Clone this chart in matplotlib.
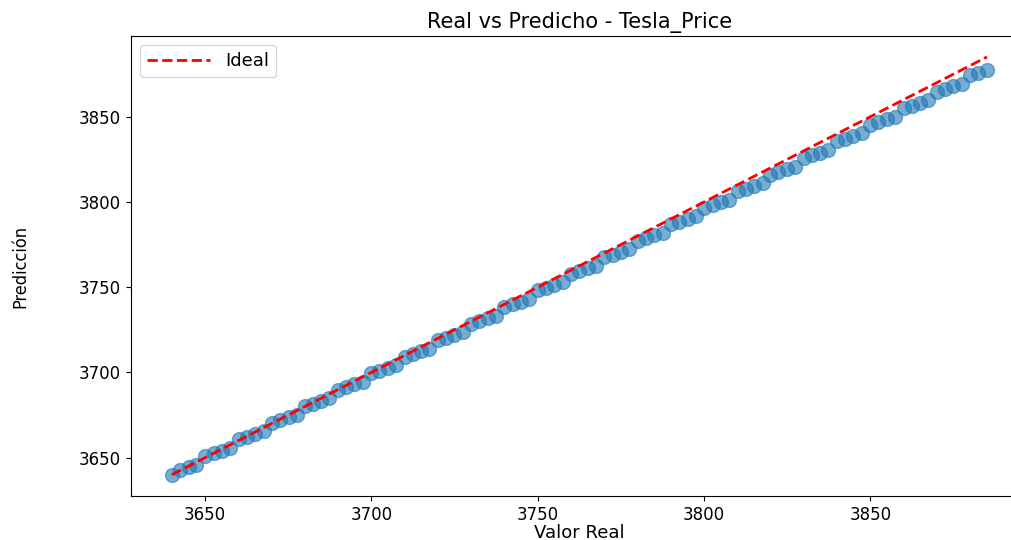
import matplotlib
matplotlib.use("Agg")
import matplotlib.pyplot as plt

# valores reales y predichos
real = [3640.0, 3642.6, 3645.1, 3647.4, 3650.0, 3652.6, 3655.0, 3657.4, 3660.1, 3662.5,
        3664.9, 3667.6, 3670.0, 3672.4, 3675.1, 3677.5, 3680.0, 3682.6, 3685.0, 3687.4,
        3690.1, 3692.5, 3694.9, 3697.6, 3700.0, 3702.4, 3705.1, 3707.5, 3710.0, 3712.6,
        3715.0, 3717.4, 3720.1, 3722.5, 3724.9, 3727.6, 3730.0, 3732.4, 3735.1, 3737.5,
        3740.0, 3742.6, 3745.0, 3747.4, 3750.1, 3752.5, 3754.9, 3757.6, 3760.0, 3762.4,
        3765.1, 3767.5, 3770.0, 3772.6, 3775.0, 3777.4, 3780.1, 3782.5, 3784.9, 3787.6,
        3790.0, 3792.4, 3795.1, 3797.5, 3800.0, 3802.6, 3805.0, 3807.4, 3810.1, 3812.5,
        3814.9, 3817.6, 3820.0, 3822.4, 3825.1, 3827.5, 3830.0, 3832.6, 3835.0, 3837.4,
        3840.1, 3842.5, 3844.9, 3847.6, 3850.0, 3852.4, 3855.1, 3857.5, 3860.0, 3862.6,
        3865.0, 3867.4, 3870.1, 3872.5, 3874.9, 3877.6, 3880.0, 3882.4, 3885.1]

pred = [3639.8, 3642.8, 3644.5, 3646.0, 3651.0, 3652.5, 3654.2, 3655.7, 3660.7, 3662.3,
        3663.9, 3665.4, 3670.4, 3672.0, 3673.6, 3675.1, 3680.1, 3681.7, 3683.3, 3684.8,
        3689.9, 3691.4, 3693.0, 3694.5, 3699.6, 3701.1, 3702.7, 3704.2, 3709.3, 3710.8,
        3712.4, 3714.0, 3719.0, 3720.5, 3722.1, 3723.7, 3728.7, 3730.2, 3731.9, 3733.4,
        3738.4, 3739.9, 3741.6, 3743.1, 3748.1, 3749.6, 3751.3, 3752.8, 3757.8, 3759.4,
        3761.0, 3762.5, 3767.5, 3769.1, 3770.7, 3772.2, 3777.2, 3778.8, 3780.4, 3781.9,
        3787.0, 3788.5, 3790.1, 3791.6, 3796.7, 3798.2, 3799.8, 3801.3, 3806.4, 3807.9,
        3809.5, 3811.1, 3816.1, 3817.6, 3819.2, 3820.8, 3825.8, 3827.3, 3829.0, 3830.5,
        3835.5, 3837.0, 3838.7, 3840.2, 3845.2, 3846.7, 3848.4, 3849.9, 3854.9, 3856.5,
        3858.1, 3859.6, 3864.6, 3866.2, 3867.8, 3869.3, 3874.3, 3875.9, 3877.5]

target = "Tesla_Price"

fig = plt.figure(figsize=(10.11, 5.4), dpi=100)
ax = fig.add_axes([0.1296, 0.0815, 0.887, 0.8518])

ax.scatter(real, pred, s=100, alpha=0.6, color="tab:blue")
lo, hi = min(real), max(real)
ax.plot([lo, hi], [lo, hi], "r--", lw=2, label="Ideal")

ax.set_title(f"Real vs Predicho - {target}", fontsize=15)
ax.set_xlabel("Valor Real", fontsize=13, labelpad=0)
ax.set_ylabel("Predicción", fontsize=13, fontstretch="condensed", labelpad=36)
ax.tick_params(labelsize=12)
ax.legend(loc="upper left", fontsize=13, handlelength=3.5)

fig.savefig("out.png", dpi=100)
